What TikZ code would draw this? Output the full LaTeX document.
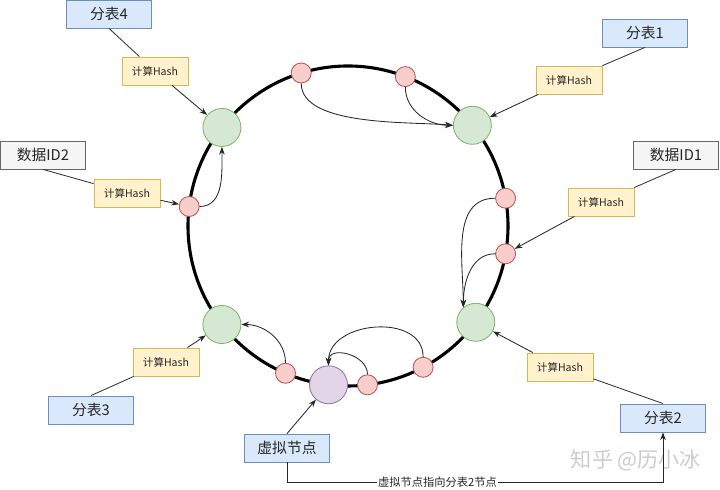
\documentclass[tikz,border=0pt]{standalone}
\usepackage{fontspec}
\setmainfont{Noto Sans CJK SC}
\usetikzlibrary{arrows.meta}
\definecolor{tblfill}{HTML}{DAE8FC}
\definecolor{tbldraw}{HTML}{6C8EBF}
\definecolor{hashfill}{HTML}{FFF2CC}
\definecolor{hashdraw}{HTML}{D6B656}
\definecolor{datafill}{HTML}{F5F5F5}
\definecolor{datadraw}{HTML}{666666}
\definecolor{nodefill}{HTML}{D5E8D4}
\definecolor{nodedraw}{HTML}{82B366}
\definecolor{keyfill}{HTML}{F8CECC}
\definecolor{keydraw}{HTML}{B85450}
\definecolor{virtfill}{HTML}{E1D5E7}
\definecolor{virtdraw}{HTML}{9673A6}
\begin{document}
\begin{tikzpicture}[
    >={Stealth[length=5.5pt, width=4pt]},
    box/.style={
        draw,
        line width=0.6pt,
        minimum width=2.125cm,
        minimum height=0.7cm,
        inner sep=0pt,
        text=black!85,
        font=\fontsize{10.5}{12}\selectfont
    },
    tablebox/.style={box, fill=tblfill, draw=tbldraw},
    databox/.style={box, fill=datafill, draw=datadraw},
    hashbox/.style={box, fill=hashfill, draw=hashdraw,
        minimum width=1.65cm, font=\fontsize{7.5}{9}\selectfont},
    ringdot/.style={circle, line width=0.6pt, inner sep=0pt},
    realnode/.style={ringdot, fill=nodefill, draw=nodedraw, minimum size=0.95cm},
    keynode/.style={ringdot, fill=keyfill, draw=keydraw, minimum size=0.5cm},
    virtnode/.style={ringdot, fill=virtfill, draw=virtdraw, minimum size=0.95cm},
    ring/.style={line width=2.2pt},
    link/.style={line width=0.6pt, draw=black!80},
    arr/.style={->, line width=0.6pt, draw=black!85}
]
    \useasboundingbox (0,0) rectangle (18,12.25);

    \coordinate (c) at (8.7,6.6);
    \draw[ring] (c) circle[radius=4];

    \node[realnode] (n1) at ([shift={(39:4)}]c) {};
    \node[realnode] (n2) at ([shift={(323:4)}]c) {};
    \node[realnode] (n3) at ([shift={(218:4)}]c) {};
    \node[realnode] (n4) at ([shift={(142:4)}]c) {};
    \node[virtnode] (v2) at ([shift={(263:4)}]c) {};

    \node[keynode] (ka) at ([shift={(107:4)}]c) {};
    \node[keynode] (kb) at ([shift={(69:4)}]c) {};
    \node[keynode] (kc) at ([shift={(10:4)}]c) {};
    \node[keynode] (kd) at ([shift={(350:4)}]c) {};
    \node[keynode] (ke) at ([shift={(173:4)}]c) {};
    \node[keynode] (kf) at ([shift={(247:4)}]c) {};
    \node[keynode] (kg) at ([shift={(277:4)}]c) {};
    \node[keynode] (kh) at ([shift={(298:4)}]c) {};

    \node[tablebox] (t4) at (2.725,11.9) {分表4};
    \node[hashbox] (h4) at (3.875,10.475) {计算Hash};
    \node[databox] (d2) at (1.075,8.375) {数据ID2};
    \node[hashbox] (hd2) at (3.175,7.425) {计算Hash};
    \node[tablebox] (t1) at (16.125,11.425) {分表1};
    \node[hashbox] (h1) at (14.225,10.25) {计算Hash};
    \node[databox] (d1) at (16.9,8.375) {数据ID1};
    \node[hashbox] (hd1) at (15.025,7.2) {计算Hash};
    \node[hashbox] (h3) at (4.15,3.2) {计算Hash};
    \node[tablebox] (t3) at (2.275,2.0) {分表3};
    \node[tablebox] (vn) at (7.175,1.05) {虚拟节点};
    \node[hashbox] (h2) at (14.0,3.075) {计算Hash};
    \node[tablebox] (t2) at (16.575,1.8) {分表2};

    \node[text=black!20, font=\fontsize{15}{18}\selectfont] (mark) at (15.9,0.75) {知乎 @历小冰};

    \draw[link] (t4.south) -- (h4);
    \draw[arr] (h4) -- (n4);
    \draw[link] (d2.south) -- (hd2);
    \draw[arr] (hd2) -- (ke);
    \draw[link] (t1.south) -- (h1);
    \draw[arr] (h1) -- (n1);
    \draw[link] (d1.south) -- (hd1);
    \draw[arr] (hd1) -- (kd);
    \draw[link] (t3.north) -- (h3);
    \draw[arr] (h3) -- (n3);
    \draw[link] (t2.north) -- (h2);
    \draw[arr] (h2) -- (n2);
    \draw[arr] (vn.north) -- (v2);

    \draw[arr] (ka.south) to[out=-90, in=175, looseness=0.7] (n1.west);
    \draw[arr] (kb.south) to[out=-90, in=180] (n1.west);
    \draw[arr] (kc.west) to[out=180, in=90] (n2.130);
    \draw[arr] (kd.west) to[out=180, in=90] (n2.130);
    \draw[arr] (ke.east) to[out=0, in=-90] (n4.south);
    \draw[arr] (kf.north) to[out=90, in=0] (n3.east);
    \draw[arr] (kg.north) to[out=90, in=90, looseness=1.3] (v2.north);
    \draw[arr] (kh.north) to[out=90, in=90, looseness=1.2] (v2.north);

    \draw[arr] (vn.south) -- ++(0,-0.5) -| node[pos=0.2, fill=white, inner sep=1pt,
        text=black!85, font=\fontsize{8}{10}\selectfont] {虚拟节点指向分表2节点} (t2.south);
\end{tikzpicture}
\end{document}
